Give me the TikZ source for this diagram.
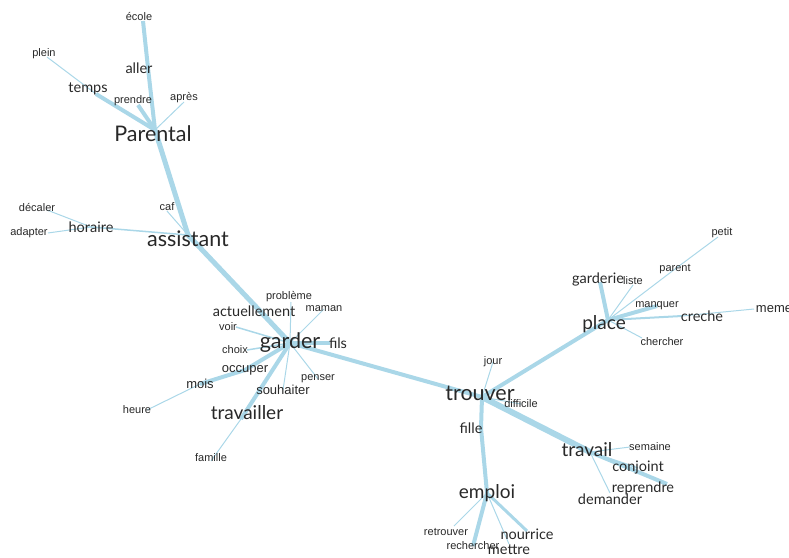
\documentclass[tikz,border=0pt]{standalone}
\usepackage{fontspec}
\setmainfont{Liberation Sans}
\newfontfamily\wordfont{Lato}
\usetikzlibrary{backgrounds}
\definecolor{edgeblue}{RGB}{170,215,232}
\definecolor{wordgray}{RGB}{40,40,40}

\begin{document}
\begin{tikzpicture}[
    x=1pt, y=-1pt,
    word/.style={
        inner sep=0pt,
        text=wordgray,
        font=\fontsize{11}{12}\selectfont
    },
    wordmid/.style={
        word,
        font=\fontsize{13}{14}\selectfont
    },
    lvA/.style={
        word,
        font=\wordfont\fontsize{21.5}{24}\selectfont
    },
    lvB/.style={
        word,
        font=\wordfont\fontsize{19}{21}\selectfont
    },
    lvC/.style={
        word,
        font=\wordfont\fontsize{14.5}{16}\selectfont
    },
    linkfine/.style={
        draw=edgeblue,
        line width=1pt
    },
    linkmid/.style={
        draw=edgeblue,
        line width=2pt
    },
    linkheavy/.style={
        draw=edgeblue,
        line width=4pt
    },
    linkmax/.style={
        draw=edgeblue,
        line width=6pt
    }
]
\useasboundingbox (0,0) rectangle (789,557);

% Parental branch
\node[word] (ecole) at (139,17) {école};
\node[lvC] (aller) at (139,68) {aller};
\node[word] (plein) at (44,54) {plein};
\node[lvC] (temps) at (88,89) {temps};
\node[word] (prendre) at (133,101) {prendre};
\node[word] (apres) at (184,98) {après};
\node[lvA] (parental) at (153,134) {Parental};

% assistant branch
\node[word] (caf) at (167,207) {caf};
\node[word] (decaler) at (37,207) {décaler};
\node[lvC] (horaire) at (91,227) {horaire};
\node[word] (adapter) at (29,233) {adapter};
\node[lvA] (assistant) at (188,239) {assistant};

% garder branch
\node[word] (probleme) at (289,297) {problème};
\node[lvC] (actuellement) at (254,311) {actuellement};
\node[word] (maman) at (324,309) {maman};
\node[word] (voir) at (228,327) {voir};
\node[lvA] (garder) at (290,343) {garder};
\node[lvC] (fils) at (338,343) {fils};
\node[word] (choix) at (235,350) {choix};
\node[wordmid] (occuper) at (245,370) {occuper};
\node[word] (penser) at (318,379) {penser};
\node[wordmid] (mois) at (200,384) {mois};
\node[wordmid] (souhaiter) at (283,390) {souhaiter};
\node[word] (heure) at (137,410) {heure};
\node[lvB] (travailler) at (247,413) {travailler};
\node[word] (famille) at (211,458) {famille};

% trouver branch
\node[word] (jour) at (493,362) {jour};
\node[lvA] (trouver) at (480,393) {trouver};
\node[word] (difficile) at (521,404) {difficile};
\node[lvC] (fille) at (471,428) {fille};

% place branch
\node[lvB] (place) at (604,324) {place};
\node[lvC] (garderie) at (598,279) {garderie};
\node[word] (liste) at (633,281) {liste};
\node[word] (parent) at (675,269) {parent};
\node[word] (petit) at (722,233) {petit};
\node[word] (manquer) at (657,306) {manquer};
\node[lvC] (creche) at (702,316) {creche};
\node[wordmid] (meme) at (774,309) {meme};
\node[word] (chercher) at (662,342) {chercher};

% travail branch
\node[lvB] (travail) at (587,450) {travail};
\node[word] (semaine) at (650,447) {semaine};
\node[lvC] (conjoint) at (638,468) {conjoint};
\node[lvC] (reprendre) at (643,488) {reprendre};
\node[lvC] (demander) at (610,499) {demander};

% emploi branch
\node[lvB] (emploi) at (487,493) {emploi};
\node[word] (retrouver) at (446,532) {retrouver};
\node[word] (rechercher) at (473,546) {rechercher};
\node[lvC] (nourrice) at (527,534) {nourrice};
\node[lvC] (mettre) at (509,550) {mettre};

% Links behind the words
\begin{scope}[on background layer]
\draw[linkheavy] ([xshift=4pt,yshift=-4pt]ecole.center) -- ([xshift=9pt]aller.center);
\draw[linkheavy] ([xshift=9pt]aller.center) -- ([xshift=2pt,yshift=4pt]parental.center);
\draw[linkfine] ([xshift=3pt,yshift=-3pt]plein.center) -- ([xshift=8pt,yshift=-5pt]temps.center);
\draw[linkheavy] ([xshift=8pt,yshift=-5pt]temps.center) -- ([xshift=2pt,yshift=4pt]parental.center);
\draw[linkheavy] ([xshift=5pt,yshift=-4pt]prendre.center) -- ([xshift=2pt,yshift=4pt]parental.center);
\draw[linkfine] ([yshift=-4pt]apres.center) -- ([xshift=2pt,yshift=4pt]parental.center);
\draw[linkheavy, line width=5pt] ([xshift=2pt,yshift=4pt]parental.center) -- ([yshift=4pt]assistant.center);

\draw[linkfine] ([yshift=-4pt]caf.center) -- ([yshift=4pt]assistant.center);
\draw[linkfine] ([xshift=10pt,yshift=-3pt]decaler.center) -- (horaire.center);
\draw[linkfine] (adapter.east) -- (horaire.center);
\draw[linkfine, line width=1.5pt] (horaire.center) -- ([yshift=4pt]assistant.center);
\draw[linkheavy, line width=5pt] ([yshift=4pt]assistant.center) -- ([xshift=6pt]actuellement.center);
\draw[linkheavy, line width=5pt] ([xshift=6pt]actuellement.center) -- (garder.center);

\draw[linkfine] ([xshift=2pt,yshift=-5pt]probleme.center) -- (garder.center);
\draw[linkfine] (maman.center) -- (garder.center);
\draw[linkfine, line width=1.5pt] ([xshift=8pt]voir.center) -- (garder.center);
\draw[linkfine, line width=1.5pt] ([xshift=12pt]choix.center) -- (garder.center);
\draw[linkheavy] ([xshift=-8pt]fils.center) -- (garder.center);
\draw[linkfine] (penser.center) -- (garder.center);
\draw[linkfine] (souhaiter.center) -- (garder.center);
\draw[linkheavy] (garder.center) -- (occuper.center);
\draw[linkheavy] (occuper.center) -- (mois.center);
\draw[linkfine] (mois.center) -- ([xshift=10pt]heure.center);
\draw[linkheavy] (garder.center) -- ([xshift=-6pt,yshift=-6pt]travailler.center);
\draw[linkfine] ([xshift=-6pt,yshift=-6pt]travailler.center) -- ([yshift=-3pt]famille.center);
\draw[linkheavy] (garder.center) -- ([xshift=2pt,yshift=-4pt]trouver.center);

\draw[linkfine] (jour.center) -- ([xshift=2pt,yshift=-4pt]trouver.center);
\draw[linkfine] (difficile.center) -- ([xshift=2pt,yshift=-4pt]trouver.center);
\draw[linkheavy] ([xshift=2pt,yshift=-4pt]trouver.center) -- ([xshift=4pt,yshift=4pt]place.center);
\draw[linkmax] ([xshift=2pt,yshift=-4pt]trouver.center) -- ([xshift=3pt,yshift=-2pt]travail.center);
\draw[linkheavy] ([xshift=2pt,yshift=-4pt]trouver.center) -- ([xshift=10pt]fille.center);
\draw[linkheavy] ([xshift=10pt]fille.center) -- (emploi.center);

\draw[linkheavy] ([xshift=4pt,yshift=4pt]place.center) -- ([xshift=2pt,yshift=-3pt]garderie.center);
\draw[linkfine] ([xshift=4pt,yshift=4pt]place.center) -- ([yshift=-4pt]liste.center);
\draw[linkfine] ([xshift=4pt,yshift=4pt]place.center) -- (parent.center);
\draw[linkfine] (parent.center) -- ([xshift=-4pt,yshift=-4pt]petit.center);
\draw[linkheavy] ([xshift=4pt,yshift=4pt]place.center) -- (manquer.center);
\draw[linkmid] ([xshift=4pt,yshift=4pt]place.center) -- ([xshift=-20pt]creche.center);
\draw[linkfine] ([xshift=-20pt]creche.center) -- ([xshift=-20pt]meme.center);
\draw[linkfine] ([xshift=4pt,yshift=4pt]place.center) -- ([xshift=-20pt,yshift=4pt]chercher.center);

\draw[linkfine] ([xshift=3pt,yshift=-2pt]travail.center) -- ([xshift=-20pt]semaine.center);
\draw[linkfine, line width=1.5pt] ([xshift=3pt,yshift=-2pt]travail.center) -- (conjoint.center);
\draw[linkheavy] ([xshift=3pt,yshift=-2pt]travail.center) -- ([xshift=24pt,yshift=4pt]reprendre.center);
\draw[linkfine] ([xshift=3pt,yshift=-2pt]travail.center) -- ([yshift=6pt]demander.center);

\draw[linkfine] (emploi.center) -- ([xshift=8pt,yshift=6pt]retrouver.center);
\draw[linkheavy] (emploi.center) -- (rechercher.center);
\draw[linkfine] (emploi.center) -- ([yshift=6pt]mettre.center);
\draw[linkmid, line width=3pt] (emploi.center) -- ([yshift=3pt]nourrice.center);
\end{scope}

\end{tikzpicture}
\end{document}
